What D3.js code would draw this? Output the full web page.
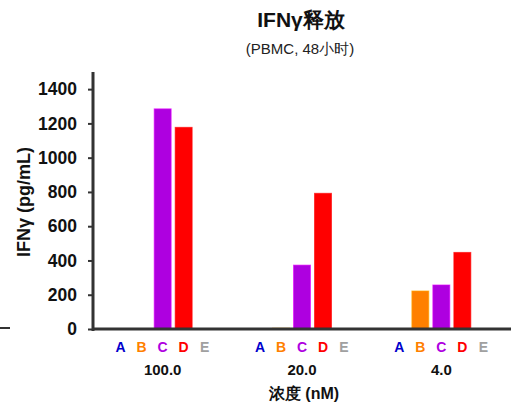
<!DOCTYPE html>
<html><head><meta charset="utf-8">
<script src="https://cdn.jsdelivr.net/npm/d3@7/dist/d3.min.js"></script>
<style>body{margin:0;background:#fff}svg{display:block}text{font-family:"Liberation Sans",Arial,sans-serif}</style>
</head><body><svg id="c" width="528" height="404"></svg>
<script>
const groups = ["100.0", "20.0", "4.0"];
const series = ["A", "B", "C", "D", "E"];
const colors = ["#0000CC", "#FF8000", "#AE00E0", "#FF0000", "#A0A0A0"];
const valuesA = [2, 2, 2];
const valuesB = [0, 5, 222];
const valuesC = [1285, 373, 257];
const valuesD = [1177, 792, 447];
const valuesE = [0, 0, 0];
const yTicks = [0, 200, 400, 600, 800, 1000, 1200, 1400];

const allVals = [valuesA, valuesB, valuesC, valuesD, valuesE];
const svg = d3.select("#c");
const x0 = d3.scaleBand().domain(groups).range([93, 511]).padding(0);
const x1 = d3.scaleBand().domain(series).range([-52.5, 52.5]).paddingInner(4/21).paddingOuter(2/21);
const y = d3.scaleLinear().domain([0, 1500]).range([329, 72]);

const data = [];
groups.forEach((g, gi) => series.forEach((s, si) => data.push({g, s, si, v: allVals[si][gi]})));

svg.append("g").selectAll("rect").data(data.filter(d => d.v > 0)).join("rect")
  .attr("x", d => x0(d.g) + x0.bandwidth()/2 + x1(d.s))
  .attr("width", x1.bandwidth())
  .attr("y", d => y(d.v))
  .attr("height", d => y(0) - y(d.v))
  .attr("fill", d => colors[d.si])
  .attr("stroke", d => d3.color(colors[d.si]).brighter(0.8))
  .attr("stroke-opacity", 0.6)
  .attr("stroke-width", 1);

// y axis
const yAxis = d3.axisLeft(y).tickValues(yTicks).tickSize(5).tickPadding(11).tickFormat(d3.format("d"));
const ga = svg.append("g").attr("transform", "translate(93,0)").call(yAxis);
ga.select(".domain").remove();
ga.selectAll(".tick line").attr("stroke", "#333").attr("stroke-width", 2);
ga.selectAll(".tick text").attr("font-size", 17.5).attr("font-weight", "bold").attr("fill", "#111");
svg.append("line").attr("x1", 93).attr("x2", 93).attr("y1", 72).attr("y2", y(0)+2).attr("stroke", "#333").attr("stroke-width", 3);
svg.append("line").attr("x1", 92).attr("x2", 511).attr("y1", y(0)).attr("y2", y(0)).attr("stroke", "#333").attr("stroke-width", 3);
svg.append("line").attr("x1", 0).attr("x2", 10).attr("y1", 328).attr("y2", 328).attr("stroke", "#333").attr("stroke-width", 2);

// series letters
const lg = svg.append("g");
groups.forEach(g => series.forEach((s, si) => {
  lg.append("text").attr("x", x0(g) + x0.bandwidth()/2 + x1(s) + x1.bandwidth()/2).attr("y", 352)
    .attr("text-anchor", "middle").attr("font-size", 14).attr("font-weight", "bold")
    .attr("fill", colors[si]).text(s);
}));
svg.append("g").selectAll("text").data(groups).join("text")
  .attr("x", d => x0(d) + x0.bandwidth()/2).attr("y", 375)
  .attr("text-anchor", "middle").attr("font-size", 15).attr("font-weight", "bold").attr("fill", "#111").text(d => d);

svg.append("text").attr("x", 304).attr("y", 399).attr("text-anchor", "middle")
  .attr("font-size", 16).attr("font-weight", "bold").attr("fill", "#111").text("浓度 (nM)");
svg.append("text").attr("transform", "translate(30,202) rotate(-90)").attr("text-anchor", "middle")
  .attr("font-size", 18).attr("font-weight", "bold").attr("fill", "#111").text("IFNγ (pg/mL)");
svg.append("text").attr("x", 301).attr("y", 27).attr("text-anchor", "middle")
  .attr("font-size", 21).attr("font-weight", "bold").attr("fill", "#111").text("IFNγ释放");
svg.append("text").attr("x", 300).attr("y", 54).attr("text-anchor", "middle")
  .attr("font-size", 15).attr("fill", "#222").text("(PBMC, 48小时)");
</script></body></html>
